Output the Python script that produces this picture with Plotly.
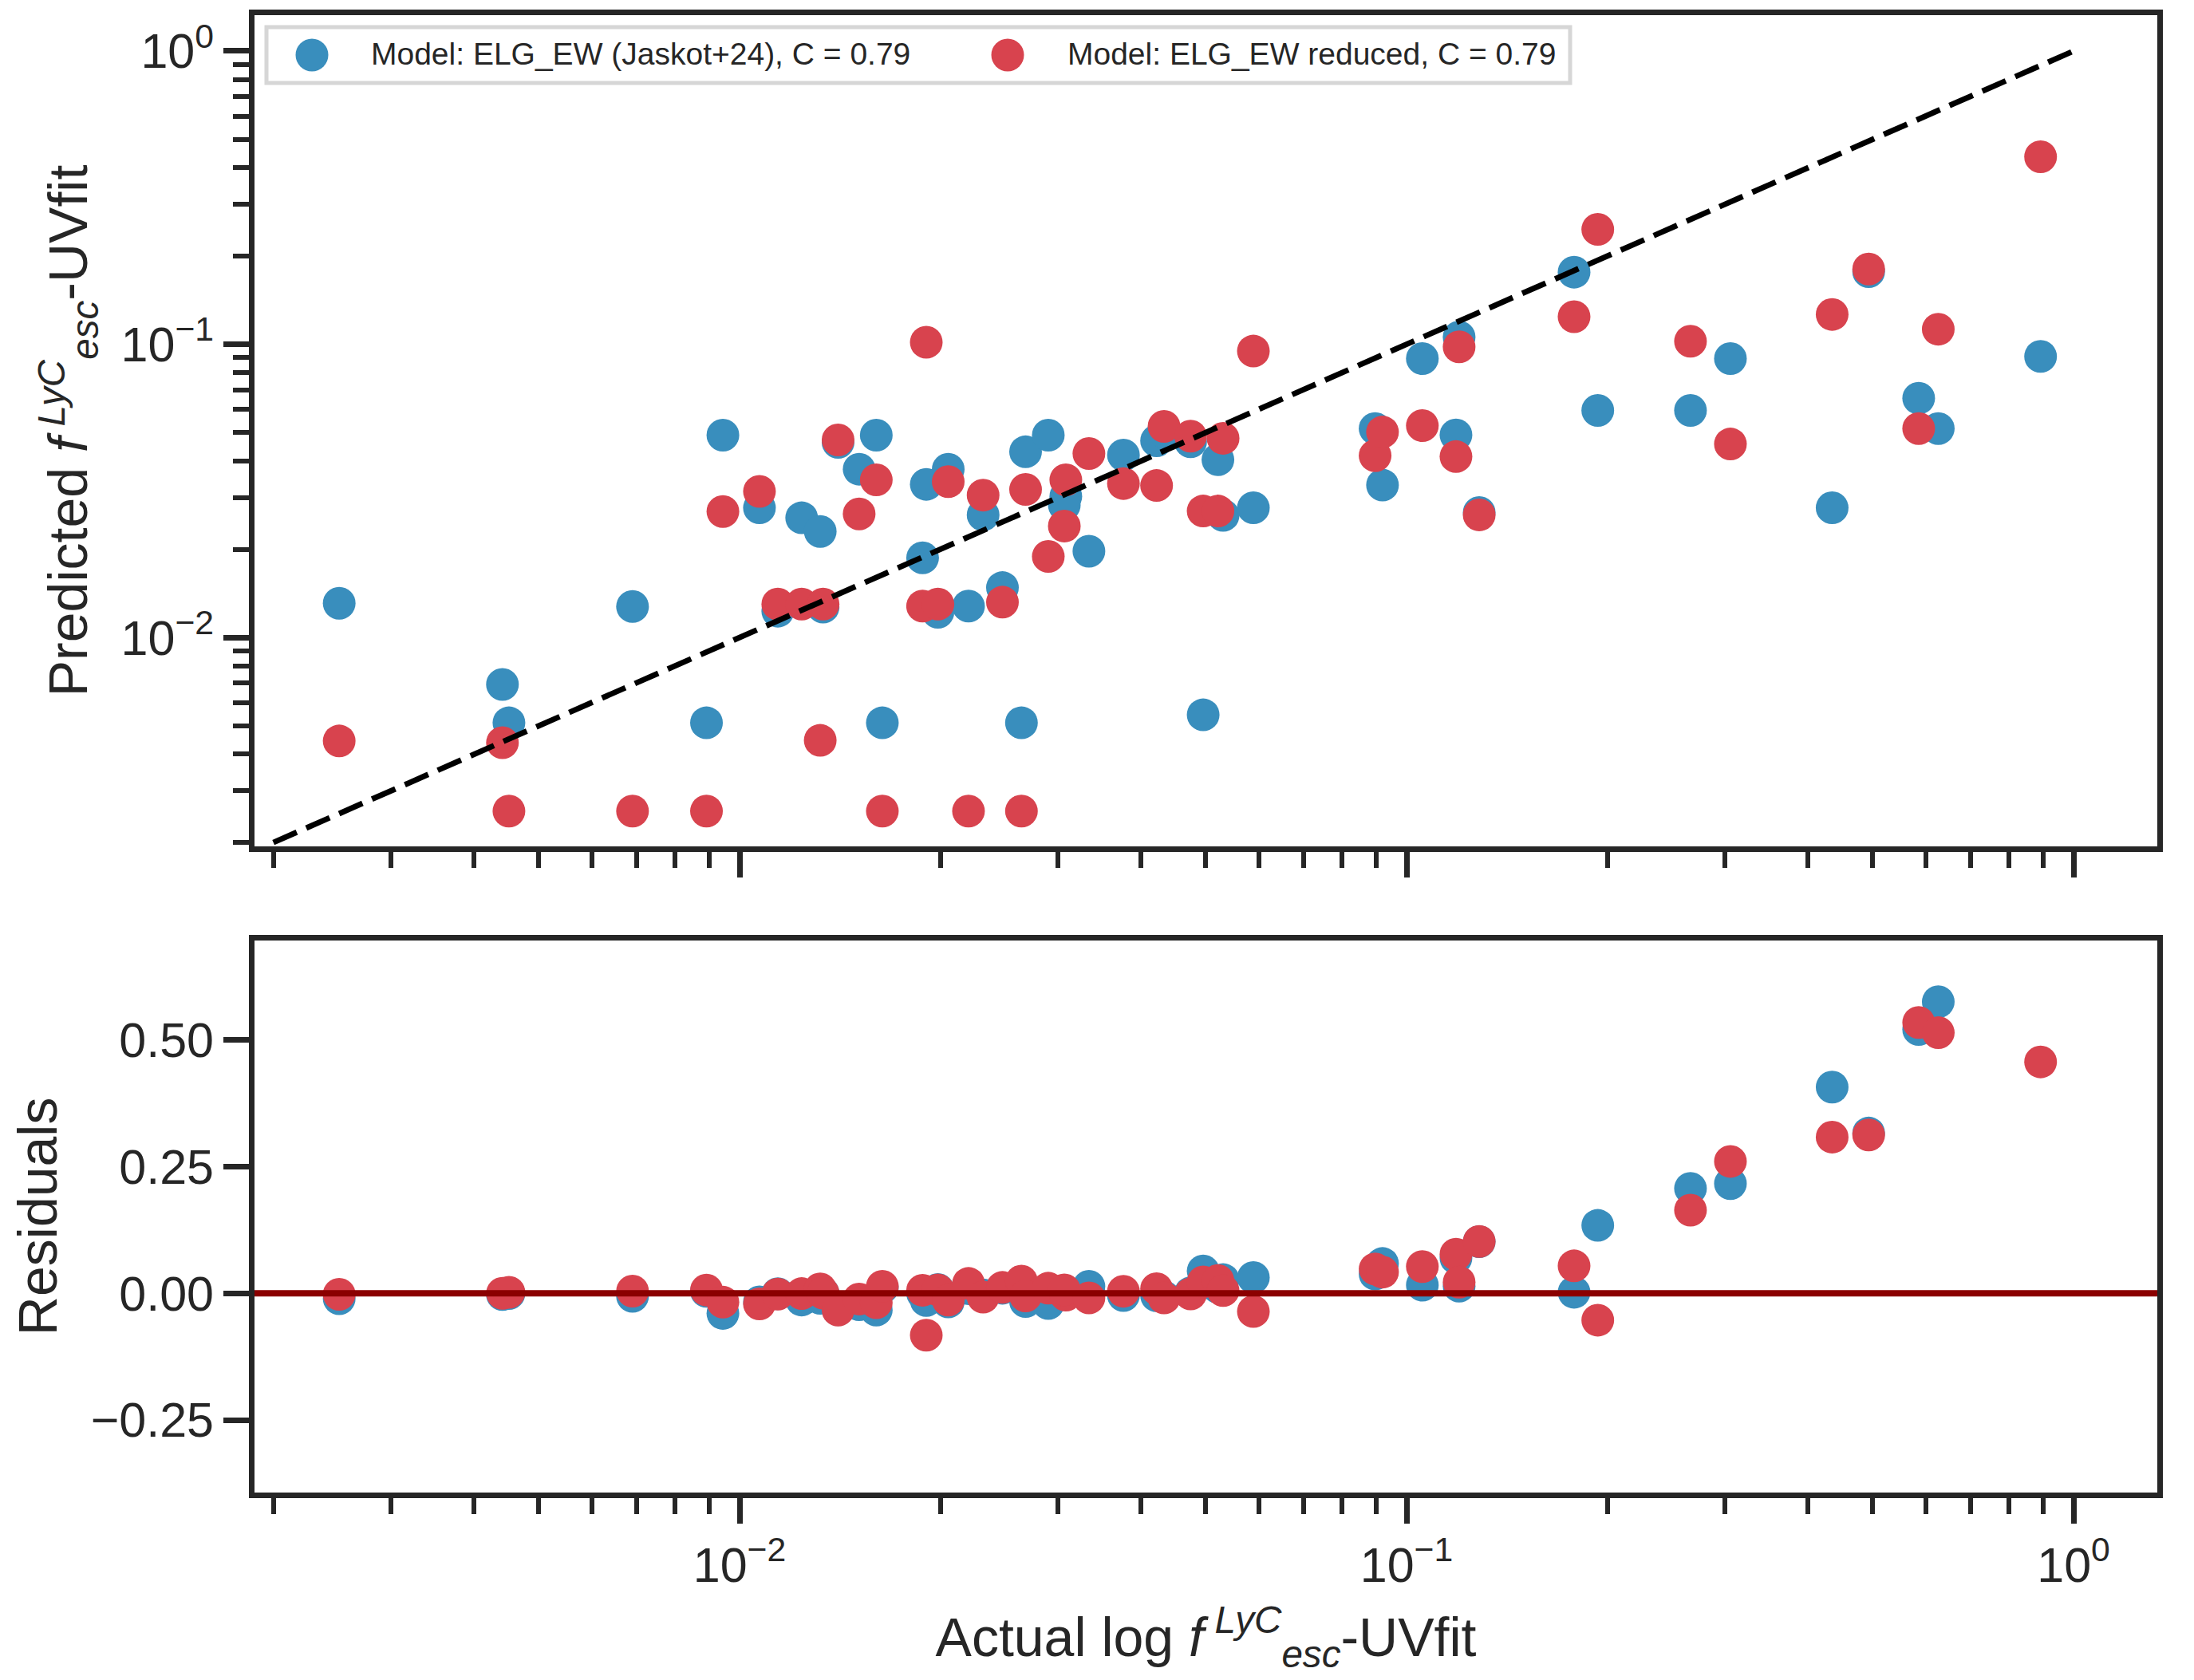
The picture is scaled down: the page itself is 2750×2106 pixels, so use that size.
import plotly.graph_objects as go

# ---------------- data ----------------
actual = [0.00251, 0.00441, 0.00451, 0.00691, 0.00892, 0.00944, 0.01071, 0.01141,
          0.01239, 0.01321, 0.01334, 0.01405, 0.01511, 0.01603, 0.01637, 0.01881,
          0.01905, 0.01983, 0.02055, 0.02204, 0.02318, 0.02478, 0.02646, 0.02684,
          0.02903, 0.03084, 0.03068, 0.03340, 0.03763, 0.04219, 0.04329, 0.04745,
          0.04955, 0.05214, 0.05308, 0.05893, 0.08971, 0.09203, 0.1056, 0.1186,
          0.1199, 0.1285, 0.1783, 0.1935, 0.2665, 0.3059, 0.4346, 0.4930, 0.5859,
          0.6269, 0.8925]

pred_jaskot = [0.01309, 0.00692, 0.00512, 0.01276, 0.00512, 0.0490, 0.0277, 0.0123,
               0.0256, 0.0230, 0.0127, 0.0463, 0.0375, 0.0490, 0.00512, 0.0187,
               0.0333, 0.0122, 0.0375, 0.0128, 0.0262, 0.0148, 0.00512, 0.0430,
               0.0490, 0.0303, 0.0283, 0.0197, 0.0419, 0.0469, 0.0502, 0.0465,
               0.00545, 0.0404, 0.0261, 0.0277, 0.0516, 0.0331, 0.0894, 0.0491,
               0.1059, 0.0267, 0.1762, 0.0595, 0.0595, 0.0894, 0.0277, 0.1768,
               0.0655, 0.0516, 0.0909]

pred_reduced = [0.00444, 0.00438, 0.00256, 0.00256, 0.00256, 0.0269, 0.0315, 0.0130,
                0.0130, 0.00446, 0.0130, 0.0472, 0.0264, 0.0345, 0.00256, 0.0128,
                0.1016, 0.0130, 0.0340, 0.00256, 0.0306, 0.0132, 0.00256, 0.0320,
                0.0189, 0.0345, 0.0240, 0.0424, 0.0335, 0.0330, 0.0525, 0.0486,
                0.0270, 0.0270, 0.0478, 0.0948, 0.0417, 0.0502, 0.0528, 0.0414,
                0.0980, 0.0262, 0.1242, 0.2465, 0.1024, 0.0457, 0.1264, 0.1805,
                0.0516, 0.1126, 0.4359]

resid_jaskot = [-0.0106, -0.0025, -0.0006, -0.0059, 0.0038, -0.0396, -0.0170, -0.0009,
                -0.0132, -0.0098, 0.0006, -0.0323, -0.0224, -0.0330, 0.0113, 0.0001,
                -0.0143, 0.0076, -0.0170, 0.0092, -0.0030, 0.0100, 0.0213, -0.0162,
                -0.0200, 0.0005, 0.0024, 0.0137, -0.0043, -0.0047, -0.0069, 0.0010,
                0.0441, 0.0117, 0.0270, 0.0312, 0.0381, 0.0589, 0.0162, 0.0695,
                0.0140, 0.1018, 0.0021, 0.1340, 0.2070, 0.2165, 0.4069, 0.3162,
                0.5204, 0.5753, 0.8016]

resid_reduced = [-0.0019, 0.0000, 0.0020, 0.0044, 0.0064, -0.0175, -0.0208, -0.0016,
                 -0.0006, 0.0088, 0.0003, -0.0332, -0.0113, -0.0185, 0.0138, 0.0060,
                 -0.0826, 0.0068, -0.0135, 0.0195, -0.0074, 0.0116, 0.0239, -0.0052,
                 0.0101, -0.0037, 0.0067, -0.0090, 0.0041, 0.0092, -0.0092, -0.0012,
                 0.0226, 0.0251, 0.0053, -0.0359, 0.0480, 0.0418, 0.0528, 0.0772,
                 0.0219, 0.1023, 0.0541, -0.0530, 0.1641, 0.2602, 0.3082, 0.3125,
                 0.5343, 0.5143, 0.4566]

one_to_one = [0.002, 1.0]

series_names = ["Model: ELG_EW (Jaskot+24), C = 0.79",
                "Model: ELG_EW reduced, C = 0.79"]

log_tickvals = [0.01, 0.1, 1]
log_ticktext = ["10<sup>\u22122</sup>", "10<sup>\u22121</sup>", "10<sup>0</sup>"]
res_tickvals = [-0.25, 0.0, 0.25, 0.50]

FESC = "<i>f</i>\u2009<sup><i>LyC</i></sup><sub><i>esc</i></sub>"

# ---------------- style ----------------
BLUE = "#398EBD"
RED = "#D8434E"
INK = "#262626"
FONT = "Liberation Sans, Arial, sans-serif"
MSIZE = 41

# plot-area geometry in pixels (used for the legend box placement)
W, H = 2750, 2106
ML, MR, MT, MB = 319, 46, 17, 235
PW, PH = W - ML - MR, H - MT - MB


def paper_x(px):
    return (px - ML) / PW


def paper_y(py):
    return 1 - (py - MT) / PH


minor_vals = [k * 10.0 ** e for e in (-3, -2, -1) for k in range(2, 10)]

fig = go.Figure()

# top panel
fig.add_trace(go.Scatter(x=actual, y=pred_jaskot, mode="markers", name=series_names[0],
                         marker=dict(size=MSIZE, color=BLUE, line=dict(width=0)),
                         xaxis="x", yaxis="y"))
fig.add_trace(go.Scatter(x=actual, y=pred_reduced, mode="markers", name=series_names[1],
                         marker=dict(size=MSIZE, color=RED, line=dict(width=0)),
                         xaxis="x", yaxis="y"))
fig.add_trace(go.Scatter(x=one_to_one, y=one_to_one, mode="lines", showlegend=False,
                         line=dict(color="black", width=7, dash="32px,13px"),
                         xaxis="x", yaxis="y"))

# bottom panel
fig.add_trace(go.Scatter(x=actual, y=resid_jaskot, mode="markers", showlegend=False,
                         marker=dict(size=MSIZE, color=BLUE, line=dict(width=0)),
                         xaxis="x2", yaxis="y2"))
fig.add_trace(go.Scatter(x=actual, y=resid_reduced, mode="markers", showlegend=False,
                         marker=dict(size=MSIZE, color=RED, line=dict(width=0)),
                         xaxis="x2", yaxis="y2"))

fig.add_shape(type="line", xref="x2 domain", x0=0, x1=1, yref="y2", y0=0, y1=0,
              line=dict(color="#8B0000", width=8), layer="above")

# ---- legend (drawn as a box with full-size markers, like the reference) ----
fig.add_shape(type="rect", xref="paper", yref="paper",
              x0=paper_x(334), x1=paper_x(1968), y0=paper_y(102), y1=paper_y(32),
              line=dict(color="#D6D6D6", width=5), fillcolor="rgba(255,255,255,0.85)",
              layer="above")
legend_items = [(391, 463, BLUE, series_names[0]), (1263, 1336, RED, series_names[1])]
for mx, tx, col, label in legend_items:
    fig.add_shape(type="circle", xref="paper", yref="paper",
                  xsizemode="pixel", ysizemode="pixel",
                  xanchor=paper_x(mx), yanchor=paper_y(67),
                  x0=-MSIZE / 2, x1=MSIZE / 2, y0=-MSIZE / 2, y1=MSIZE / 2,
                  fillcolor=col, line=dict(width=0), layer="above")
    fig.add_annotation(xref="paper", yref="paper", x=paper_x(tx), y=paper_y(66),
                       xanchor="left", yanchor="middle", showarrow=False, text=label,
                       font=dict(family=FONT, size=39, color=INK))

common = dict(showline=True, linecolor=INK, linewidth=6.5, mirror=True,
              ticks="outside", ticklen=32, tickwidth=6.5, tickcolor=INK,
              showgrid=False, zeroline=False,
              tickfont=dict(family=FONT, size=61, color=INK))

minor_cfg = dict(tickmode="array", tickvals=minor_vals, ticks="outside",
                 ticklen=20, tickwidth=5.5, tickcolor=INK, showgrid=False)

xrange_log = [-2.7273, 0.1256]

fig.update_layout(
    width=W, height=H,
    paper_bgcolor="white", plot_bgcolor="white",
    margin=dict(l=ML, r=MR, t=MT, b=MB),
    font=dict(family=FONT, color=INK),
    showlegend=False,
    xaxis=dict(type="log", range=xrange_log, domain=[0, 1], anchor="y",
               tickmode="array", tickvals=log_tickvals, ticktext=log_ticktext,
               showticklabels=False, minor=minor_cfg, **common),
    yaxis=dict(type="log", range=[-2.712, 0.1223], domain=[0.4374, 1], anchor="x",
               tickmode="array", tickvals=log_tickvals, ticktext=log_ticktext,
               minor=minor_cfg,
               title=dict(text="Predicted " + FESC + "-UVfit",
                          font=dict(family=FONT, size=68, color=INK), standoff=22),
               **common),
    xaxis2=dict(type="log", range=xrange_log, domain=[0, 1], anchor="y2", matches="x",
                tickmode="array", tickvals=log_tickvals, ticktext=log_ticktext,
                minor=minor_cfg,
                title=dict(text="Actual log " + FESC + "-UVfit",
                           font=dict(family=FONT, size=68, color=INK), standoff=36),
                **common),
    yaxis2=dict(range=[-0.3931, 0.6965], domain=[0, 0.3738], anchor="x2",
                tickmode="array", tickvals=res_tickvals, tickformat=".2f",
                title=dict(text="Residuals", font=dict(family=FONT, size=68, color=INK),
                           standoff=22),
                **common),
)

fig.write_html("out.html")
